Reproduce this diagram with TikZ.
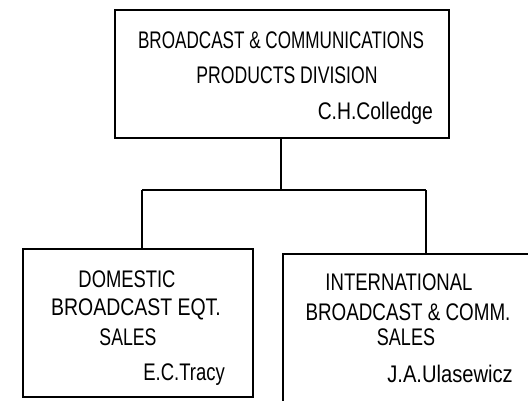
\documentclass[tikz,border=0pt]{standalone}
\usepackage{fontspec}
\usepackage{graphicx}
\setmainfont{Liberation Sans}
\newcommand{\hsq}[2]{\scalebox{#1}[1]{#2}}
\tikzset{
  box/.style={draw, line width=1.3pt, rectangle, inner sep=0pt},
  conn/.style={line width=1.2pt},
  lbl/.style={inner sep=0pt, font=\fontsize{24}{28}\selectfont, anchor=base},
  who/.style={inner sep=0pt, font=\fontsize{24}{28}\selectfont, anchor=base east},
}
\begin{document}
\begin{tikzpicture}[x=1pt,y=-1pt]
\useasboundingbox (0,0) rectangle (528,400);
\clip (0,0) rectangle (528,400);
% boxes
\node[box, minimum width=334pt, minimum height=128pt] (top) at (282,74) {};
\node[box, minimum width=230pt, minimum height=148pt] (lbox) at (138,323) {};
\node[box, minimum width=262pt, minimum height=156pt] (rbox) at (414,332) {};
% connector points
\coordinate (bj) at (281,190);
\coordinate (lj) at (142,190);
\coordinate (rj) at (426,190);
\draw[conn] (top.south -| bj) -- (bj);
\draw[conn] (lj) -- (rj);
\draw[conn] (lj) -- (lj |- lbox.north);
\draw[conn] (rj) -- (rj |- rbox.north);
% texts
\node[lbl] (t1) at (281,48) {\hsq{0.713}{BROADCAST \& COMMUNICATIONS}};
\node[lbl] (t2) at (287,83) {\hsq{0.734}{PRODUCTS DIVISION}};
\node[who] (t3) at (433,119) {\hsq{0.806}{C.H.Colledge}};
\node[lbl] (l1) at (127,287) {\hsq{0.766}{DOMESTIC}};
\node[lbl] (l2) at (136,315) {\hsq{0.811}{BROADCAST EQT.}};
\node[lbl] (l3) at (128,345) {\hsq{0.737}{SALES}};
\node[who] (l4) at (225,380) {\hsq{0.77}{E.C.Tracy}};
\node[lbl] (r1) at (399,290) {\hsq{0.773}{INTERNATIONAL}};
\node[lbl] (r2) at (408,320) {\hsq{0.784}{BROADCAST \& COMM.}};
\node[lbl] (r3) at (406,345) {\hsq{0.75}{SALES}};
\node[who] (r4) at (513,382) {\hsq{0.84}{J.A.Ulasewicz}};
\end{tikzpicture}
\end{document}
